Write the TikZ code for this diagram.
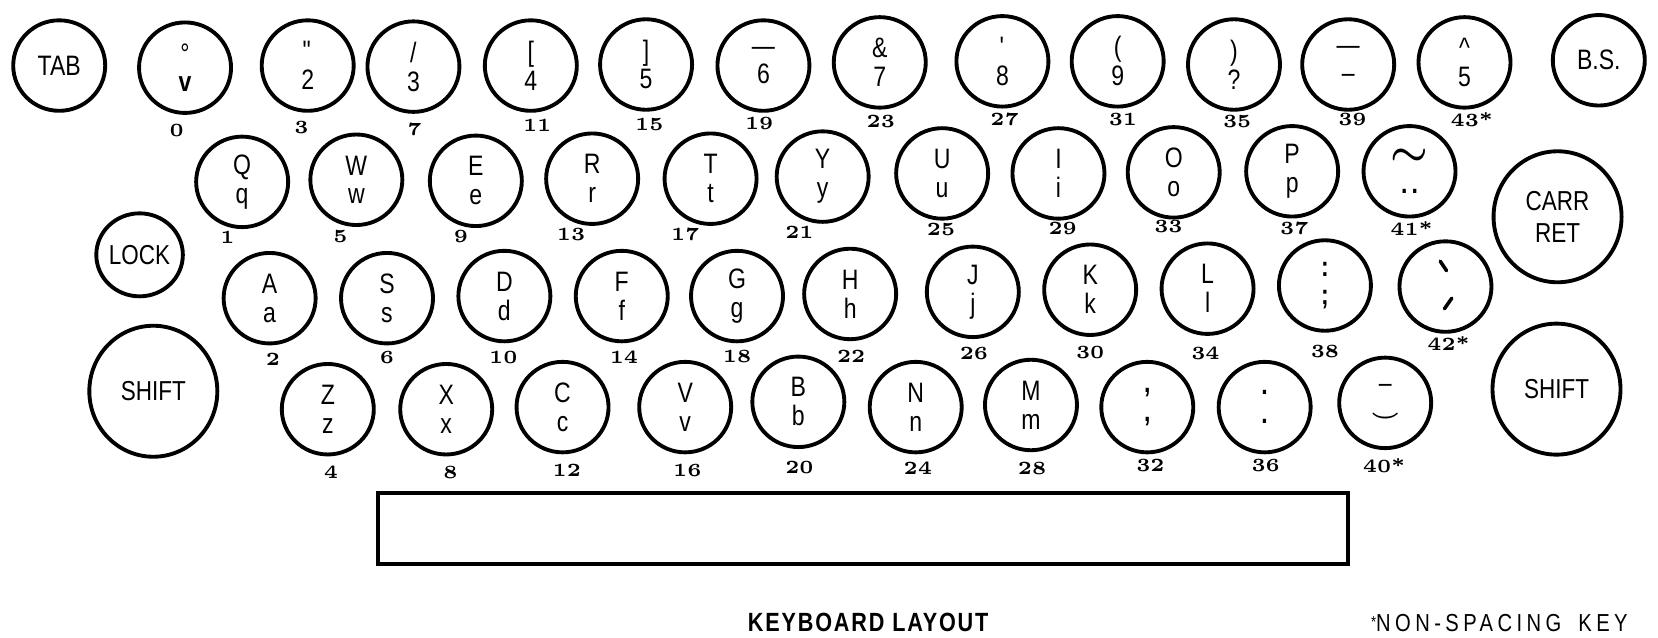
\documentclass[tikz,border=0pt]{standalone}
\usepackage{fontspec}
\usetikzlibrary{shapes.geometric, positioning}
\newfontfamily\keyfont[FakeStretch=0.82]{Liberation Sans}

\begin{document}
\begin{tikzpicture}[
      x=0.010574cm, y=-0.010574cm,
      keycap/.style={
        ellipse,
        draw,
        line width=1.1pt,
        minimum width=0.92cm,
        minimum height=0.905cm,
        inner sep=0pt,
        align=center,
        font=\keyfont\fontsize{8}{8.2}\selectfont
      },
      bigkey/.style={keycap, minimum width=1.28cm, minimum height=1.31cm,
        font=\keyfont\fontsize{7.8}{9}\selectfont},
      lockkey/.style={keycap, minimum width=0.74cm, minimum height=0.83cm,
        font=\keyfont\fontsize{7.8}{9}\selectfont},
      tick/.style={line width=1pt, line cap=round},
      num/.style={font=\fontsize{5.3}{6}\selectfont\bfseries, inner sep=0pt},
      title/.style={font=\keyfont\fontsize{7.5}{9}\selectfont\bfseries\addfontfeature{LetterSpace=7}}
    ]
      \useasboundingbox (0,0) rectangle (1568,603);

      \node[keycap] (tab) at (56,62) {TAB};
      \node[keycap] (k0) at (175,64) {\textdegree\\\textbf{v}};
      \node[keycap] (k3) at (291,62) {\textquotedbl\\2};
      \node[keycap] (k7) at (391,63) {/\\3};
      \node[keycap] (k11) at (502,62) {[\\4};
      \node[keycap] (k15) at (611,61) {]\\5};
      \node[keycap] (k19) at (722,62) {\textemdash\\6};
      \node[keycap] (k23) at (832,59) {\&\\7};
      \node[keycap] (k27) at (948,58) {\textquotesingle\\8};
      \node[keycap] (k31) at (1057,58) {(\\9};
      \node[keycap] (k35) at (1167,61) {)\\?};
      \node[keycap] (k39) at (1275,61) {\textemdash\\\textendash};
      \node[keycap] (k43) at (1385,59) {\textasciicircum\\5};
      \node[keycap] (bs) at (1512,57) {B.S.};

      \node[num] (n0) at (167,123) {0};
      \node[num] (n3) at (285,121) {3};
      \node[num] (n7) at (392,122) {7};
      \node[num] (n11) at (508,119) {11};
      \node[num] (n15) at (614,118) {15};
      \node[num] (n19) at (718,117) {19};
      \node[num] (n23) at (833,115) {23};
      \node[num] (n27) at (950,113) {27};
      \node[num] (n31) at (1062,113) {31};
      \node[num] (n35) at (1170,115) {35};
      \node[num] (n39) at (1279,113) {39};
      \node[num] (n43) at (1392,113) {43*};

      \node[keycap] (kq) at (229,172) {Q\\q};
      \node[keycap] (kw) at (337,170) {W\\w};
      \node[keycap] (ke) at (450,171) {E\\e};
      \node[keycap] (kr) at (560,169) {R\\r};
      \node[keycap] (kt) at (672,169) {T\\t};
      \node[keycap] (ky) at (778,167) {Y\\y};
      \node[keycap] (ku) at (891,164) {U\\u};
      \node[keycap] (ki) at (1001,164) {I\\i};
      \node[keycap] (ko) at (1110,163) {O\\o};
      \node[keycap] (kp) at (1222,162) {P\\p};
      \node[keycap] (ktilde) at (1333,162) {{\fontsize{13}{8.2}\selectfont\boldmath$\sim$}\\\textbf{.\kern1.2pt.}};
      \node[bigkey] (carr) at (1473,205) {CARR\\RET};
      \node[lockkey] (lock) at (132,241) {LOCK};

      \node[num] (n1) at (215,224) {1};
      \node[num] (n5) at (322,224) {5};
      \node[num] (n9) at (436,224) {9};
      \node[num] (n13) at (540,222) {13};
      \node[num] (n17) at (648,222) {17};
      \node[num] (n21) at (756,220) {21};
      \node[num] (n25) at (890,217) {25};
      \node[num] (n29) at (1005,216) {29};
      \node[num] (n33) at (1105,214) {33};
      \node[num] (n37) at (1224,216) {37};
      \node[num] (n41) at (1335,216) {41*};

      \node[keycap] (ka) at (255,282) {A\\a};
      \node[keycap] (ks) at (366,282) {S\\s};
      \node[keycap] (kd) at (477,280) {D\\d};
      \node[keycap] (kf) at (588,280) {F\\f};
      \node[keycap] (kg) at (697,280) {G\\g};
      \node[keycap] (kh) at (804,278) {H\\h};
      \node[keycap] (kj) at (920,276) {J\\j};
      \node[keycap] (kk) at (1031,274) {K\\k};
      \node[keycap] (kl) at (1142,273) {L\\l};
      \node[keycap] (kcolon) at (1253,270) {\textbf{:}\\\textbf{;}};
      \node[keycap] (kgrave) at (1367,271) {};
      \draw[tick] ([shift={(-5,-24)}]kgrave.center) -- ([shift={(1,-15)}]kgrave.center);
      \draw[tick] ([shift={(6,11)}]kgrave.center) -- ([shift={(-1,21)}]kgrave.center);

      \node[num] (n2) at (258,340) {2};
      \node[num] (n6) at (366,338) {6};
      \node[num] (n10) at (476,338) {10};
      \node[num] (n14) at (590,338) {14};
      \node[num] (n18) at (697,337) {18};
      \node[num] (n22) at (805,337) {22};
      \node[num] (n26) at (921,334) {26};
      \node[num] (n30) at (1031,333) {30};
      \node[num] (n34) at (1140,334) {34};
      \node[num] (n38) at (1253,332) {38};
      \node[num] (n42) at (1370,325) {42*};

      \node[bigkey] (lshift) at (145,370) {SHIFT};
      \node[keycap] (kz) at (310,387) {Z\\z};
      \node[keycap] (kx) at (422,387) {X\\x};
      \node[keycap] (kc) at (532,385) {C\\c};
      \node[keycap] (kv) at (648,385) {V\\v};
      \node[keycap] (kb) at (755,380) {B\\b};
      \node[keycap] (kn) at (866,385) {N\\n};
      \node[keycap] (km) at (975,383) {M\\m};
      \node[keycap] (kcomma) at (1085,385) {\textbf{,}\\\textbf{,}};
      \node[keycap] (kdot) at (1196,385) {\textbf{.}\\\textbf{.}};
      \node[keycap] (kbreve) at (1310,381) {\textendash\\{\fontsize{6.5}{8.2}\selectfont\boldmath$\smile$}};
      \node[bigkey] (rshift) at (1472,368) {SHIFT};

      \node[num] (n4) at (313,447) {4};
      \node[num] (n8) at (426,447) {8};
      \node[num] (n12) at (536,445) {12};
      \node[num] (n16) at (650,445) {16};
      \node[num] (n20) at (756,442) {20};
      \node[num] (n24) at (868,443) {24};
      \node[num] (n28) at (976,443) {28};
      \node[num] (n32) at (1088,440) {32};
      \node[num] (n36) at (1197,440) {36};
      \node[num] (n40) at (1309,440) {40*};

      \node[draw, line width=1.1pt, minimum width=9.7cm, minimum height=0.71cm] (space) at (816,500) {};

      \node[title] (caption) at (821,589) {KEYBOARD LAYOUT};
      \node[font=\keyfont\fontsize{7}{8}\selectfont\addfontfeature{LetterSpace=18}] (note) at (1418,589)
        {\raisebox{1pt}{\fontsize{4.5}{5}\selectfont*}NON-SPACING\hspace{2pt} KEY};
    \end{tikzpicture}
\end{document}
